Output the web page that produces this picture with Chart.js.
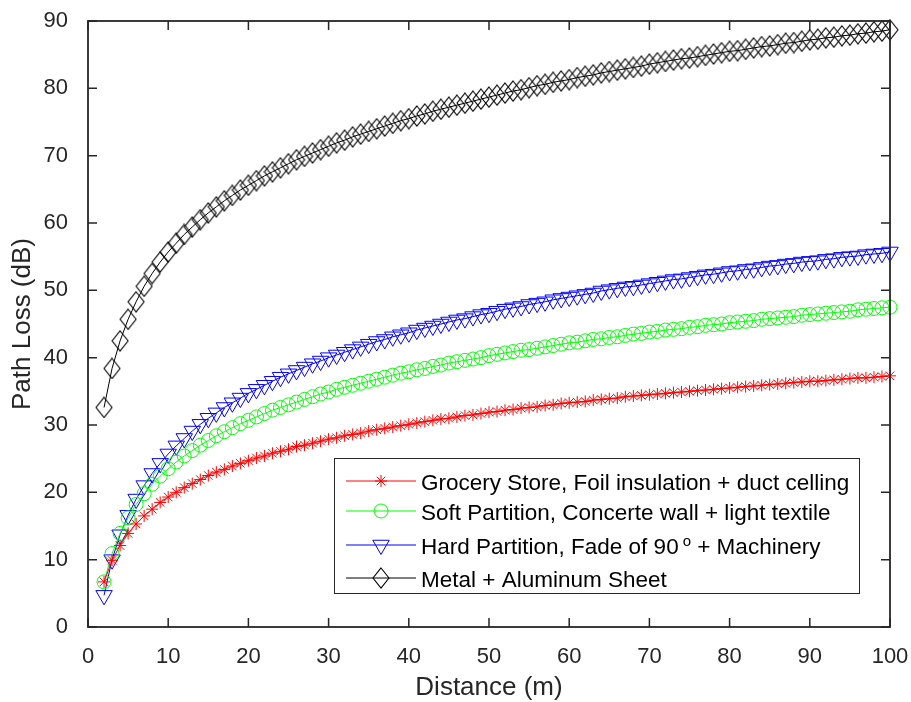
<!DOCTYPE html>
<html>
<head>
<meta charset="utf-8">
<script src="https://cdn.jsdelivr.net/npm/chart.js@4/dist/chart.umd.min.js"></script>
<style>
  body { margin: 0; background: #fff; }
  #wrap { width: 911px; height: 702px; }
</style>
</head>
<body>
<div id="wrap"><canvas id="plChart" width="911" height="702"></canvas></div>
<script>
// distance (m), one point per metre
const distance = [
  2, 3, 4, 5, 6, 7, 8, 9, 10, 11, 12, 13, 14, 15, 16, 17, 18, 19, 20,
  21, 22, 23, 24, 25, 26, 27, 28, 29, 30, 31, 32, 33, 34, 35, 36, 37, 38, 39, 40,
  41, 42, 43, 44, 45, 46, 47, 48, 49, 50, 51, 52, 53, 54, 55, 56, 57, 58, 59, 60,
  61, 62, 63, 64, 65, 66, 67, 68, 69, 70, 71, 72, 73, 74, 75, 76, 77, 78, 79, 80,
  81, 82, 83, 84, 85, 86, 87, 88, 89, 90, 91, 92, 93, 94, 95, 96, 97, 98, 99, 100
];

// path loss (dB)
const grocery = [
  6.7, 9.9, 12.1, 13.9, 15.3, 16.5, 17.5, 18.5, 19.3, 20.0, 20.7, 21.3, 21.9, 22.5, 23.0, 23.4, 23.9, 24.3, 24.7,
  25.1, 25.4, 25.8, 26.1, 26.4, 26.8, 27.0, 27.3, 27.6, 27.9, 28.1, 28.4, 28.6, 28.8, 29.1, 29.3, 29.5, 29.7, 29.9, 30.1,
  30.3, 30.5, 30.7, 30.9, 31.0, 31.2, 31.4, 31.5, 31.7, 31.9, 32.0, 32.2, 32.3, 32.5, 32.6, 32.7, 32.9, 33.0, 33.2, 33.3,
  33.4, 33.5, 33.7, 33.8, 33.9, 34.0, 34.2, 34.3, 34.4, 34.5, 34.6, 34.7, 34.8, 34.9, 35.0, 35.1, 35.2, 35.3, 35.4, 35.5,
  35.6, 35.7, 35.8, 35.9, 36.0, 36.1, 36.2, 36.3, 36.4, 36.5, 36.5, 36.6, 36.7, 36.8, 36.9, 37.0, 37.0, 37.1, 37.2, 37.3
];
const softPartition = [
  6.7, 10.9, 13.9, 16.2, 18.2, 19.8, 21.2, 22.4, 23.5, 24.5, 25.4, 26.2, 27.0, 27.7, 28.4, 29.0, 29.6, 30.2, 30.7,
  31.2, 31.7, 32.2, 32.6, 33.0, 33.4, 33.8, 34.2, 34.6, 34.9, 35.3, 35.6, 35.9, 36.2, 36.5, 36.8, 37.1, 37.4, 37.7, 37.9,
  38.2, 38.4, 38.7, 38.9, 39.2, 39.4, 39.6, 39.8, 40.0, 40.3, 40.5, 40.7, 40.9, 41.1, 41.2, 41.4, 41.6, 41.8, 42.0, 42.2,
  42.3, 42.5, 42.7, 42.8, 43.0, 43.1, 43.3, 43.5, 43.6, 43.8, 43.9, 44.1, 44.2, 44.3, 44.5, 44.6, 44.8, 44.9, 45.0, 45.2,
  45.3, 45.4, 45.5, 45.7, 45.8, 45.9, 46.0, 46.1, 46.3, 46.4, 46.5, 46.6, 46.7, 46.8, 46.9, 47.1, 47.2, 47.3, 47.4, 47.5
];
const hardPartition = [
  4.7, 10.0, 13.7, 16.6, 19.0, 21.0, 22.8, 24.3, 25.7, 26.9, 28.0, 29.1, 30.1, 31.0, 31.8, 32.6, 33.3, 34.0, 34.7,
  35.3, 35.9, 36.5, 37.1, 37.6, 38.1, 38.6, 39.1, 39.5, 40.0, 40.4, 40.8, 41.2, 41.6, 42.0, 42.4, 42.7, 43.1, 43.4, 43.7,
  44.1, 44.4, 44.7, 45.0, 45.3, 45.6, 45.8, 46.1, 46.4, 46.6, 46.9, 47.2, 47.4, 47.6, 47.9, 48.1, 48.3, 48.6, 48.8, 49.0,
  49.2, 49.4, 49.6, 49.9, 50.1, 50.3, 50.5, 50.6, 50.8, 51.0, 51.2, 51.4, 51.6, 51.7, 51.9, 52.1, 52.3, 52.4, 52.6, 52.8,
  52.9, 53.1, 53.2, 53.4, 53.6, 53.7, 53.9, 54.0, 54.2, 54.3, 54.4, 54.6, 54.7, 54.9, 55.0, 55.1, 55.3, 55.4, 55.5, 55.7
];
const metalSheet = [
  32.6, 38.4, 42.5, 45.7, 48.3, 50.6, 52.5, 54.2, 55.7, 57.0, 58.3, 59.4, 60.5, 61.5, 62.4, 63.3, 64.1, 64.9, 65.6,
  66.3, 67.0, 67.6, 68.2, 68.8, 69.4, 69.9, 70.4, 70.9, 71.4, 71.9, 72.3, 72.8, 73.2, 73.6, 74.0, 74.4, 74.8, 75.2, 75.5,
  75.9, 76.2, 76.6, 76.9, 77.2, 77.5, 77.8, 78.1, 78.4, 78.7, 79.0, 79.3, 79.6, 79.8, 80.1, 80.4, 80.6, 80.9, 81.1, 81.3,
  81.6, 81.8, 82.0, 82.3, 82.5, 82.7, 82.9, 83.1, 83.3, 83.6, 83.8, 84.0, 84.2, 84.4, 84.5, 84.7, 84.9, 85.1, 85.3, 85.5,
  85.6, 85.8, 86.0, 86.2, 86.3, 86.5, 86.7, 86.8, 87.0, 87.2, 87.3, 87.5, 87.6, 87.8, 87.9, 88.1, 88.2, 88.4, 88.5, 88.7
];

const seriesLabels = [
  'Grocery Store, Foil insulation + duct celling',
  'Soft Partition, Concerte wall + light textile',
  'Hard Partition, Fade of 90^{o} + Machinery',
  'Metal + Aluminum Sheet'
];

const FONT = '"Liberation Sans", Arial, Helvetica, sans-serif';
const AXIS_COLOR = '#262626';

// MATLAB style diamond is a bit taller than wide
function makeDiamond(w, h, color) {
  const c = document.createElement('canvas');
  c.width = w + 2;
  c.height = h + 2;
  const g = c.getContext('2d');
  g.strokeStyle = color;
  g.lineWidth = 1.1;
  g.beginPath();
  g.moveTo(c.width / 2, 1);
  g.lineTo(c.width - 1, c.height / 2);
  g.lineTo(c.width / 2, c.height - 1);
  g.lineTo(1, c.height / 2);
  g.closePath();
  g.stroke();
  return c;
}

function toPoints(values) {
  return values.map((v, i) => ({ x: distance[i], y: v }));
}

function series(label, values, color, style, radius, rotation) {
  return {
    label: label,
    data: toPoints(values),
    borderColor: color,
    backgroundColor: 'rgba(0,0,0,0)',
    borderWidth: 1,
    pointStyle: style,
    pointRadius: radius,
    pointRotation: rotation || 0,
    pointBorderColor: color,
    pointBackgroundColor: 'rgba(0,0,0,0)',
    pointBorderWidth: 1,
    tension: 0,
    clip: false
  };
}

// box round the axes with inward ticks on all four sides
const framePlugin = {
  id: 'frame',
  afterDatasetsDraw(chart) {
    const { ctx, chartArea: a, scales } = chart;
    const tl = 9;
    ctx.save();
    ctx.strokeStyle = AXIS_COLOR;
    ctx.lineWidth = 1.8;
    ctx.strokeRect(a.left, a.top, a.right - a.left, a.bottom - a.top);
    ctx.lineWidth = 1.5;
    ctx.beginPath();
    scales.x.ticks.forEach(t => {
      const px = scales.x.getPixelForValue(t.value);
      ctx.moveTo(px, a.bottom); ctx.lineTo(px, a.bottom - tl);
      ctx.moveTo(px, a.top); ctx.lineTo(px, a.top + tl);
    });
    scales.y.ticks.forEach(t => {
      const py = scales.y.getPixelForValue(t.value);
      ctx.moveTo(a.left, py); ctx.lineTo(a.left + tl, py);
      ctx.moveTo(a.right, py); ctx.lineTo(a.right - tl, py);
    });
    ctx.stroke();
    ctx.restore();
  }
};

// legend box in the lower right, with TeX style ^{..} superscripts
const legendPlugin = {
  id: 'boxLegend',
  afterDraw(chart) {
    const { ctx, chartArea: a } = chart;
    const w = 525, h = 135;
    const x0 = a.right - 31 - w;
    const y0 = a.bottom - 34 - h;
    const rows = [23, 53, 87, 120];
    ctx.save();
    ctx.fillStyle = '#fff';
    ctx.fillRect(x0, y0, w, h);
    ctx.strokeStyle = AXIS_COLOR;
    ctx.lineWidth = 1;
    ctx.strokeRect(x0 + 0.5, y0 + 0.5, w, h);

    chart.data.datasets.forEach((ds, i) => {
      const y = y0 + rows[i];
      ctx.strokeStyle = ds.borderColor;
      ctx.lineWidth = 1;
      ctx.beginPath();
      ctx.moveTo(x0 + 12, y);
      ctx.lineTo(x0 + 82, y);
      ctx.stroke();

      ctx.fillStyle = 'rgba(0,0,0,0)';
      Chart.helpers.drawPoint(ctx, {
        pointStyle: ds.pointStyle,
        radius: ds.pointRadius,
        rotation: ds.pointRotation,
        borderWidth: 1
      }, x0 + 47, y);

      // text, split on ^{...}
      const parts = ds.label.split(/\^\{(.*?)\}/);
      let tx = x0 + 87;
      const base = y + 8.5;
      ctx.fillStyle = '#000';
      ctx.textBaseline = 'alphabetic';
      ctx.textAlign = 'left';
      parts.forEach((p, k) => {
        if (k % 2 === 1) {
          ctx.font = '15px ' + FONT;
          tx += 4;
          ctx.fillText(p, tx, base - 8);
          tx += ctx.measureText(p).width;
        } else {
          ctx.font = '22.5px ' + FONT;
          ctx.fillText(p, tx, base);
          tx += ctx.measureText(p).width;
        }
      });
    });
    ctx.restore();
  }
};

const ctx = document.getElementById('plChart').getContext('2d');
new Chart(ctx, {
  type: 'line',
  data: {
    datasets: [
      series(seriesLabels[0], grocery, '#ff0000', 'star', 6),
      series(seriesLabels[1], softPartition, '#00ff00', 'circle', 7),
      series(seriesLabels[2], hardPartition, '#0000ff', 'triangle', 9.5, 180),
      series(seriesLabels[3], metalSheet, '#000000', makeDiamond(16, 20, '#000000'), 8)
    ]
  },
  options: {
    responsive: false,
    animation: false,
    layout: { padding: { top: 21, right: 21, left: 0, bottom: 0 } },
    plugins: {
      legend: { display: false },
      tooltip: { enabled: false }
    },
    scales: {
      x: {
        type: 'linear',
        min: 0,
        max: 100,
        grid: { display: false },
        border: { display: false },
        ticks: {
          stepSize: 10,
          maxRotation: 0,
          padding: 9,
          color: AXIS_COLOR,
          font: { family: FONT, size: 22 }
        },
        title: {
          display: true,
          text: 'Distance (m)',
          color: AXIS_COLOR,
          font: { family: FONT, size: 26, lineHeight: 1 },
          padding: { top: 0, bottom: 1 }
        },
        afterFit: s => {
          s.height = 75;
          s.paddingLeft = 0;
          s.paddingRight = 0;
        }
      },
      y: {
        min: 0,
        max: 90,
        grid: { display: false },
        border: { display: false },
        ticks: {
          stepSize: 10,
          padding: 12,
          color: AXIS_COLOR,
          font: { family: FONT, size: 22 }
        },
        title: {
          display: true,
          text: 'Path Loss (dB)',
          color: AXIS_COLOR,
          font: { family: FONT, size: 26, lineHeight: 1 },
          padding: { top: 10, bottom: 0 }
        },
        afterFit: s => {
          s.width = 88;
          s.paddingTop = 0;
          s.paddingBottom = 0;
        }
      }
    }
  },
  plugins: [framePlugin, legendPlugin]
});
</script>
</body>
</html>
